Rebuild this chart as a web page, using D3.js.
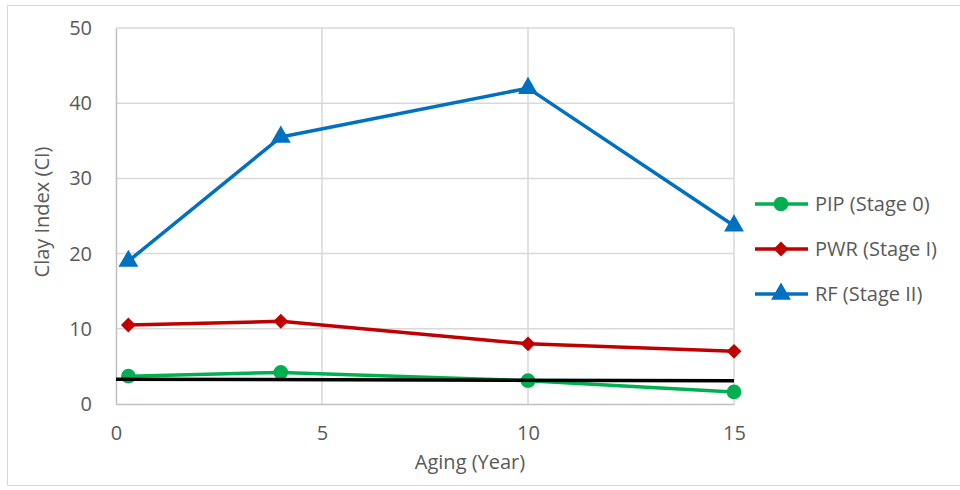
<!DOCTYPE html>
<html>
<head>
<meta charset="utf-8">
<script src="https://cdn.jsdelivr.net/npm/d3@7"></script>
<style>
  html, body { margin: 0; padding: 0; background: #fff; }
  svg { display: block; font-family: "Open Sans", "Liberation Sans", sans-serif; }
</style>
</head>
<body>
<svg id="chart" width="960" height="490"></svg>
<script>
// Aging (years) at which each stage was sampled
const aging = [0.3, 4, 10, 15];
// Clay Index per stage
const pip = [3.7, 4.2, 3.1, 1.6];
const pwr = [10.5, 11.0, 8.0, 7.0];
const rf = [19.0, 35.5, 42.0, 23.7];
// Reference level drawn in black across the range
const refX = [0, 15];
const refY = [3.3, 3.1];

const xTicks = [0, 5, 10, 15];
const yTicks = [0, 10, 20, 30, 40, 50];

const seriesNames = ["PIP (Stage 0)", "PWR (Stage I)", "RF (Stage II)"];
const seriesColors = ["#00b050", "#c00000", "#0070c0"];
const seriesShapes = [d3.symbolCircle, d3.symbolSquare, d3.symbolTriangle];
const seriesRotate = [0, 45, 0];
const seriesSizes = [170, 110, 170];
const seriesValues = [pip, pwr, rf];

const FONT = "20px";

const svg = d3.select("#chart");
const x = d3.scaleLinear().domain([0, 15]).range([116, 734]);
const y = d3.scaleLinear().domain([0, 50]).range([404, 28]);

// chart frame
svg.append("rect").attr("x", 7.5).attr("y", 5.5).attr("width", 980).attr("height", 480)
  .attr("fill", "none").attr("stroke", "#d9d9d9");

// gridlines
svg.append("g").selectAll("line").data(yTicks.slice(1)).join("line")
  .attr("x1", x(0)).attr("x2", x(15)).attr("y1", d => y(d)).attr("y2", d => y(d))
  .attr("stroke", "#d9d9d9").attr("stroke-width", 1.5);
svg.append("g").selectAll("line").data(xTicks.slice(1)).join("line")
  .attr("y1", y(0)).attr("y2", y(50)).attr("x1", d => x(d)).attr("x2", d => x(d))
  .attr("stroke", "#d9d9d9").attr("stroke-width", 1.5);

// axes
const xAxis = svg.append("g").attr("transform", `translate(0,${y(0)})`)
  .call(d3.axisBottom(x).tickValues(xTicks).tickSize(0).tickPadding(22));
const yAxis = svg.append("g").attr("transform", `translate(${x(0)},0)`)
  .call(d3.axisLeft(y).tickValues(yTicks).tickSize(0).tickPadding(24));
[xAxis, yAxis].forEach(g => {
  g.select(".domain").attr("stroke", "#bfbfbf").attr("stroke-width", 1.5);
  g.selectAll("text").attr("fill", "#595959").style("font-size", FONT)
    .style("font-family", "'Open Sans', 'Liberation Sans', sans-serif");
});

// axis titles
svg.append("text").attr("x", 470).attr("y", 469).attr("text-anchor", "middle")
  .attr("fill", "#595959").style("font-size", FONT).text("Aging (Year)");
svg.append("text").attr("transform", `translate(49,${y(25) - 4}) rotate(-90)`)
  .attr("text-anchor", "middle").attr("fill", "#595959").style("font-size", FONT)
  .text("Clay Index (CI)");

const line = d3.line().x(d => x(d[0])).y(d => y(d[1]));

// series
seriesValues.forEach((vals, i) => {
  const pts = aging.map((a, j) => [a, vals[j]]);
  svg.append("path").datum(pts).attr("d", line).attr("fill", "none")
    .attr("stroke", seriesColors[i]).attr("stroke-width", 3.5).attr("stroke-linejoin", "round");
  svg.append("g").selectAll("path").data(pts).join("path")
    .attr("transform", d => `translate(${x(d[0])},${y(d[1])}) rotate(${seriesRotate[i]})`)
    .attr("d", d3.symbol().type(seriesShapes[i]).size(seriesSizes[i]))
    .attr("fill", seriesColors[i]);
});

// reference line
svg.append("path").datum(refX.map((a, j) => [a, refY[j]])).attr("d", line)
  .attr("fill", "none").attr("stroke", "#000").attr("stroke-width", 3.5);

// legend
const legend = svg.append("g");
seriesNames.forEach((name, i) => {
  const ly = 204 + i * 45;
  legend.append("line").attr("x1", 755).attr("x2", 808).attr("y1", ly).attr("y2", ly)
    .attr("stroke", seriesColors[i]).attr("stroke-width", 3.5);
  legend.append("path").attr("transform", `translate(781,${ly}) rotate(${seriesRotate[i]})`)
    .attr("d", d3.symbol().type(seriesShapes[i]).size(seriesSizes[i]))
    .attr("fill", seriesColors[i]);
  legend.append("text").attr("x", 815).attr("y", ly).attr("dy", "0.35em")
    .attr("fill", "#595959").style("font-size", FONT).text(name);
});
</script>
</body>
</html>
